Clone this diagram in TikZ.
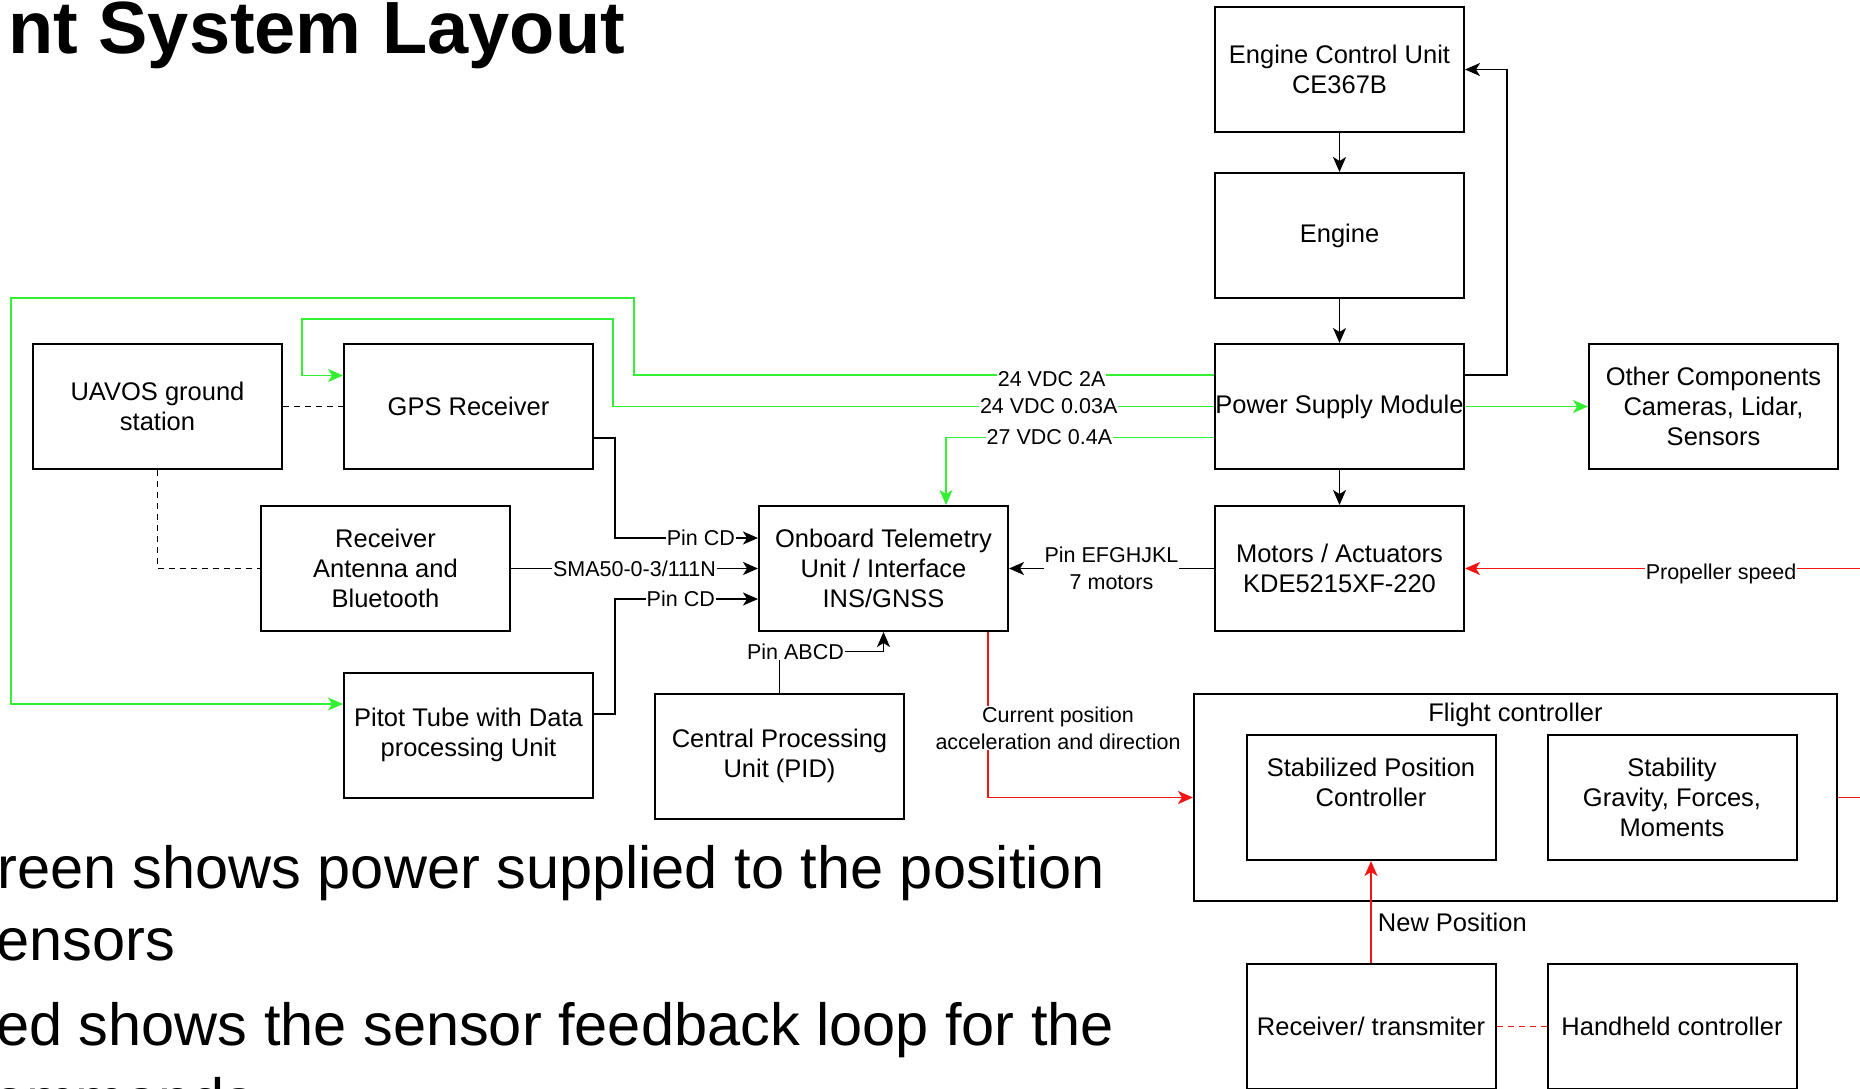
\documentclass[tikz,border=0pt]{standalone}
\usepackage{fontspec}
\setmainfont{Liberation Sans}
\usetikzlibrary{arrows.meta}

\definecolor{pwrgreen}{RGB}{51,240,51}
\definecolor{fbred}{RGB}{245,20,20}
\newcommand{\boxfont}{\fontsize{25.5}{30}\selectfont}
\newcommand{\lblfont}{\fontsize{21.5}{27}\selectfont}

\begin{document}
\begin{tikzpicture}[x=1pt,y=-1pt,
  blk/.style={draw,line width=2pt,minimum width=249pt,minimum height=125pt,inner sep=0pt,align=center,font=\boxfont},
  lbl/.style={fill=white,inner sep=1pt,align=center,font=\lblfont},
  bul/.style={anchor=base west,inner sep=0pt,font=\fontsize{59.5}{70}\selectfont},
  wire/.style={line width=1.8pt},
  arr/.style={wire,-{Stealth[length=15pt,width=13pt,inset=4pt]}},
  garr/.style={arr,draw=pwrgreen},
  rarr/.style={arr,draw=fbred},
  dashln/.style={wire,dash pattern=on 6pt off 5pt}]
  \useasboundingbox (0,0) rectangle (1860,1088);
  \clip (0,0) rectangle (1860,1088);
  \fill[white] (0,0) rectangle (1860,1088);

  % title and notes
  \node[anchor=base west,inner sep=0pt,font=\fontsize{74}{80}\selectfont\bfseries] (title) at (8,53) {nt System Layout};
  \node[bul] (note1) at (-3,888) {reen shows power supplied to the position};
  \node[bul] (note2) at (-4,960) {ensors};
  \node[bul] (note3) at (-4,1045) {ed shows the sensor feedback loop for the};
  \node[bul] (note4) at (-7,1120) {ommands};

  % boxes
  \node[blk] (ecu) at (1339.5,69.5) {Engine Control Unit\\CE367B};
  \node[blk] (engine) at (1339.5,235.5) {Engine};
  \node[blk] (psm) at (1339.5,406.5) {Power Supply Module};
  \node[blk] (other) at (1713.5,406.5) {Other Components\\Cameras, Lidar,\\Sensors};
  \node[blk] (motors) at (1339.5,568.5) {Motors / Actuators\\KDE5215XF-220};
  \node[blk] (onboard) at (883.5,568.5) {Onboard Telemetry\\Unit / Interface\\INS/GNSS};
  \node[blk] (uavos) at (157.5,406.5) {UAVOS ground\\station};
  \node[blk] (gps) at (468.5,406.5) {GPS Receiver};
  \node[blk] (recv) at (385.5,568.5) {Receiver\\Antenna and\\Bluetooth};
  \node[blk] (pitot) at (468.5,735) {Pitot Tube with Data\\processing Unit};
  \node[blk] (cpu) at (779.5,756) {Central Processing\\Unit (PID)};
  \node[blk,minimum width=643pt,minimum height=207pt] (fc) at (1515.5,797.5) {};
  \node[font=\boxfont] (fctitle) at (1515.5,715) {Flight controller};
  \node[blk] (stabpos) at (1371,797.5) {Stabilized Position\\Controller\\~};
  \node[blk] (stability) at (1672,797.5) {Stability\\Gravity, Forces,\\Moments};
  \node[blk] (rxtx) at (1371,1026.5) {Receiver/ transmiter};
  \node[blk] (handheld) at (1672,1026.5) {Handheld controller};

  % black links
  \draw[arr] (ecu) -- (engine);
  \draw[arr] (engine) -- (psm);
  \draw[arr] (psm) -- (motors);
  \draw[arr] ([yshift=31.5pt]psm.east) -- ++(42,0) |- (ecu.east);
  \draw[arr] (motors) -- node[lbl]{Pin EFGHJKL\\7 motors} (onboard);
  \draw[arr] (recv) -- node[lbl]{SMA50-0-3/111N} (onboard);
  \draw[arr] ([yshift=-31.5pt]gps.east) -- ++(21,0) |- node[lbl,pos=.8]{Pin CD} ([yshift=30.5pt]onboard.west);
  \draw[arr] ([yshift=21pt]pitot.east) -- ++(21,0) |- node[lbl,pos=.73]{Pin CD} ([yshift=-30.5pt]onboard.west);
  \draw[arr] (cpu.north) -- ++(0,-41) node[lbl,xshift=16pt]{Pin ABCD} -| (onboard.south);
  \draw[dashln] (uavos) -- (gps);
  \draw[dashln] (uavos) |- (recv);

  % power (green)
  \draw[garr] ([yshift=31.5pt]psm.west) -- node[lbl,pos=.28,yshift=-4pt]{24 VDC 2A} ++(-580,0)
    -- ++(0,-77) -- ++(-623,0) |- ([yshift=31pt]pitot.west);
  \draw[garr] (psm.west) -- node[lbl,pos=.275]{24 VDC 0.03A} ++(-601,0)
    -- ++(0,-87.5) -- ++(-311,0) |- ([yshift=31pt]gps.west);
  \draw[garr] ([yshift=-31pt]psm.west) -| node[lbl,pos=.307]{27 VDC 0.4A} ([xshift=62.5pt]onboard.north);
  \draw[garr] (psm) -- (other);

  % feedback (red)
  \draw[rarr] ([xshift=104.5pt]onboard.south) |- node[lbl,pos=.29,xshift=70pt]{Current position\\acceleration and direction} (fc.west);
  \draw[rarr] (fc.east) -- ++(40,0) |- node[lbl,pos=.69,yshift=-5pt]{Propeller speed} (motors.east);
  \draw[rarr] (rxtx) -- node[pos=.4,right,font=\boxfont,inner sep=6pt]{New Position} (stabpos);
  \draw[dashln,draw=fbred] (rxtx) -- (handheld);
\end{tikzpicture}
\end{document}
